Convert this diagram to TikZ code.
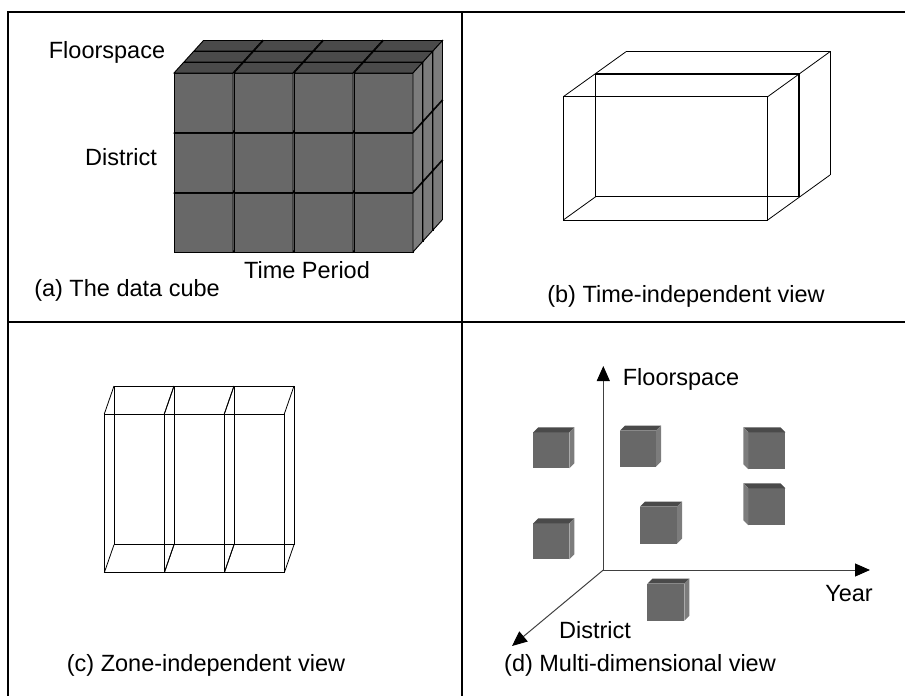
\documentclass[tikz,border=0pt]{standalone}
\usepackage{fontspec}
\setmainfont{Liberation Sans}
\usetikzlibrary{arrows.meta}

\definecolor{cubefront}{HTML}{686868}
\definecolor{cubetop}{HTML}{4A4A4A}
\definecolor{cubeside}{HTML}{7C7C7C}

% solid cube: #1,#2 top-left of front face, #3 size, #4,#5 depth offset, #6 edge style
% side face on the right
\newcommand{\cubeR}[6]{%
  \filldraw[fill=cubefront,#6] (#1,#2) rectangle (#1+#3,#2+#3);
  \filldraw[fill=cubetop,#6] (#1,#2) -- (#1+#4,#2+#5) -- (#1+#3+#4,#2+#5) -- (#1+#3,#2) -- cycle;
  \filldraw[fill=cubeside,#6] (#1+#3,#2) -- (#1+#3+#4,#2+#5) -- (#1+#3+#4,#2+#3+#5) -- (#1+#3,#2+#3) -- cycle;
}
% side face on the left (depth offset points up-left)
\newcommand{\cubeL}[6]{%
  \filldraw[fill=cubefront,#6] (#1,#2) rectangle (#1+#3,#2+#3);
  \filldraw[fill=cubetop,#6] (#1,#2) -- (#1-#4,#2+#5) -- (#1+#3-#4,#2+#5) -- (#1+#3,#2) -- cycle;
  \filldraw[fill=cubeside,#6] (#1,#2) -- (#1-#4,#2+#5) -- (#1-#4,#2+#3+#5) -- (#1,#2+#3) -- cycle;
}

\begin{document}
\begin{tikzpicture}[x=1pt,y=-1pt,
  lbl/.style={font=\fontsize{23.5}{28}\selectfont, inner sep=0pt},
  frame/.style={line width=1.3pt, black},
  wire/.style={line width=0.8pt, black},
  heavy/.style={line width=2pt, black},
  axis/.style={line width=1pt, black!75, -{Triangle[length=15pt,width=13pt,black]}}]
\useasboundingbox (0,0) rectangle (905,696);

% table grid
\draw[frame] (8,696) -- (8,12) -- (905,12);
\draw[frame] (462,12) -- (462,696);
\draw[frame] (8,322) -- (905,322);

% ---------- (a) the data cube ----------
\foreach \k in {2,1,0}
  \foreach \j in {2,1,0}
    \foreach \i in {0,...,3}
      {\cubeR{174+60*\i+10*\k}{73+60*\j-11*\k}{59}{9.5}{-10.5}{draw=black,line width=0.9pt}}

\node[lbl] (afloor) at (107,52) {Floorspace};
\node[lbl] (adist) at (121,157) {District};
\node[lbl] (atime) at (307,270) {Time Period};
\node[lbl] (acap) at (127,290) {(a) The data cube};

% ---------- (b) time-independent view ----------
\draw[wire] (563.3,96.7) rectangle (767.7,220);
\draw[wire] (595.7,196.7) -- (595.7,74);
\draw[wire] (595.7,196.7) -- (799.3,196.7);
\draw[heavy] (595.7,74) -- (799.3,74) -- (799.3,196.7);
\draw[wire] (626,51.7) -- (830,51.7) -- (830,175);
\draw[wire] (563.3,96.7) -- (626,51.7);
\draw[wire] (767.7,96.7) -- (830,51.7);
\draw[wire] (767.7,220) -- (830,175);
\draw[wire] (563.3,220) -- (595.7,196.7);

\node[lbl] (bcap) at (686,296) {(b) Time-independent view};

% ---------- (c) zone-independent view ----------
\foreach \i in {0,1,2} {
  \pgfmathsetmacro{\xa}{104.3+60*\i}
  \pgfmathsetmacro{\xb}{164.3+60*\i}
  \draw[wire] (\xa,414) rectangle (\xb,572.7);
  \draw[wire] (\xa+9.7,386) rectangle (\xb+9.7,544.7);
  \draw[wire] (\xa,414) -- (\xa+9.7,386);
  \draw[wire] (\xb,414) -- (\xb+9.7,386);
  \draw[wire] (\xa,572.7) -- (\xa+9.7,544.7);
  \draw[wire] (\xb,572.7) -- (\xb+9.7,544.7);
}

\node[lbl] (ccap) at (206,665) {(c) Zone-independent view};

% ---------- (d) multi-dimensional view ----------
\coordinate (o) at (603.3,570);
\coordinate (ytip) at (603.3,366);
\coordinate (xtip) at (870,570);
\coordinate (ztip) at (512,646);
\draw[axis] (o) -- (ytip);
\draw[axis] (o) -- (xtip);
\draw[axis] (o) -- (ztip);

\cubeR{533.3}{432.3}{36}{5}{-5}{draw=none}
\cubeR{620}{430.7}{36}{5}{-5}{draw=none}
\cubeL{748.3}{432.3}{37}{5}{-5}{draw=none}
\cubeL{748.3}{488.3}{37}{5}{-5}{draw=none}
\cubeR{640}{506.7}{37}{5}{-5}{draw=none}
\cubeR{533.3}{523.3}{36}{5}{-5}{draw=none}
\cubeR{647.3}{583.7}{37}{5}{-5}{draw=none}

\node[lbl] (dfloor) at (681,379) {Floorspace};
\node[lbl] (dyear) at (849,594) {Year};
\node[lbl] (ddist) at (595,630) {District};
\node[lbl] (dcap) at (640,665) {(d) Multi-dimensional view};
\end{tikzpicture}
\end{document}
